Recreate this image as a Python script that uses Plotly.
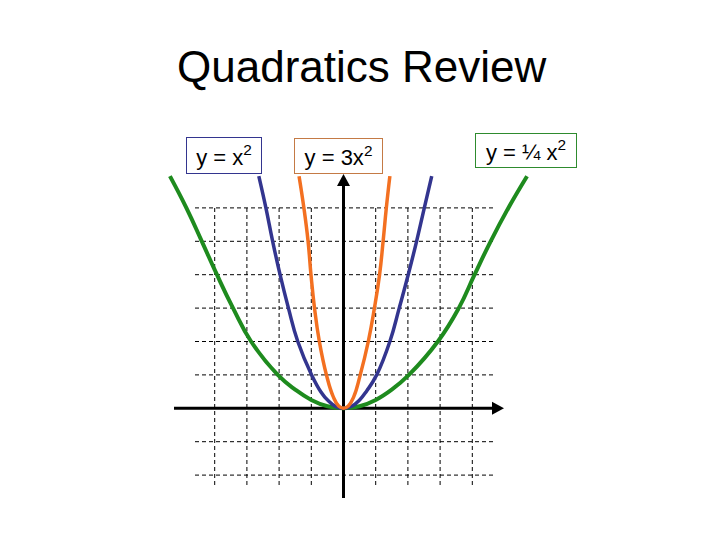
import plotly.graph_objects as go

# ---- data (graph units) ----
# y = x^2 (blue)
blue_x = [-2.63, -2.41, -2.20, -1.97, -1.71, -1.42, -0.99, -0.70, -0.48, -0.25, 0.0, 0.25, 0.50, 0.72, 1.03, 1.44, 1.73, 2.01, 2.27, 2.51, 2.74]
blue_y = [6.95, 6.0, 5.0, 4.0, 3.0, 2.0, 1.0, 0.49, 0.23, 0.06, 0.0, 0.06, 0.25, 0.52, 1.0, 2.0, 3.0, 4.0, 5.0, 6.0, 6.95]
# y = 3x^2 (orange)
orange_x = [-1.38, -1.23, -1.10, -1.01, -0.90, -0.75, -0.53, -0.32, -0.15, 0.0, 0.15, 0.32, 0.52, 0.77, 0.96, 1.12, 1.23, 1.33, 1.44]
orange_y = [6.95, 6.0, 5.0, 4.0, 3.0, 2.0, 1.0, 0.35, 0.07, 0.0, 0.07, 0.35, 1.0, 2.0, 3.0, 4.0, 5.0, 6.0, 6.95]
# y = 1/4 x^2 (green)
green_x = [-5.39, -4.88, -4.40, -3.93, -3.43, -2.87, -2.04, -1.50, -1.0, -0.5, 0.0, 0.5, 1.0, 1.5, 2.03, 2.93, 3.58, 4.07, 4.57, 5.12, 5.70]
green_y = [6.95, 6.0, 5.0, 4.0, 3.0, 2.0, 1.0, 0.56, 0.25, 0.06, 0.0, 0.06, 0.25, 0.56, 1.0, 2.0, 3.0, 4.0, 5.0, 6.0, 6.95]

grid_x = [-4, -3, -2, -1, 1, 2, 3, 4]
grid_y = [-2, -1, 1, 2, 3, 4, 5, 6]

title_text = "Quadratics Review"
label_texts = ["y = x<sup>2</sup>", "y = 3x<sup>2</sup>", "y = ¼ x<sup>2</sup>"]

# ---- layout geometry (reference pixels) ----
OFF = 8                    # page body margin
W, H = 720 - 2 * OFF, 540 - 2 * OFF
OX, OY = 343.5 - OFF, 408.3 - OFF   # origin pixel inside figure
UX, UY = 32.2, 33.4        # pixels per unit
X0, X1 = -OX / UX, (W - OX) / UX
Y0, Y1 = -(H - OY) / UY, OY / UY

def gx(px):
    return (px - OFF - OX) / UX

def gy(py):
    return (OY - (py - OFF)) / UY

def pxp(px):
    return (px - OFF) / W

def pyp(py):
    return 1 - (py - OFF) / H

BLUE = "#33358F"
ORANGE = "#F37021"
GREEN = "#1E8B1E"

fig = go.Figure()

shapes = []
# dashed grid
hx0, hx1 = gx(195), gx(493)
vy0, vy1 = gy(485), max(grid_y)
for yv in grid_y:
    shapes.append(dict(type="line", x0=hx0, x1=hx1, y0=yv, y1=yv, layer="below",
                       line=dict(color="black", width=1, dash="4px,3px")))
for xv in grid_x:
    shapes.append(dict(type="line", x0=xv, x1=xv, y0=vy0, y1=vy1, layer="below",
                       line=dict(color="black", width=1, dash="4px,3px")))
# axes
xa_start, xa_tip, xa_base = gx(174), gx(504), gx(492)
ya_start, ya_tip, ya_base = gy(498), gy(174), gy(186)
shapes.append(dict(type="line", x0=xa_start, x1=xa_base, y0=0, y1=0, layer="below",
                   line=dict(color="black", width=3)))
shapes.append(dict(type="line", x0=0, x1=0, y0=ya_start, y1=ya_base, layer="below",
                   line=dict(color="black", width=3)))
hw = 6.5 / UY
shapes.append(dict(type="path", layer="below", fillcolor="black", line=dict(width=0),
                   path=f"M {xa_base},{-hw} L {xa_tip},0 L {xa_base},{hw} Z"))
hwx = 6.5 / UX
shapes.append(dict(type="path", layer="below", fillcolor="black", line=dict(width=0),
                   path=f"M {-hwx},{ya_base} L 0,{ya_tip} L {hwx},{ya_base} Z"))

for xs, ys, col, w in [(green_x, green_y, GREEN, 4), (blue_x, blue_y, BLUE, 3.5), (orange_x, orange_y, ORANGE, 3.5)]:
    fig.add_trace(go.Scatter(x=xs, y=ys, mode="lines", line=dict(color=col, width=w, shape="spline", smoothing=1.3),
                             hoverinfo="skip", showlegend=False))

annotations = [
    dict(text=title_text, x=pxp(361), y=pyp(66), xref="paper", yref="paper", showarrow=False,
         xanchor="center", yanchor="middle", font=dict(family="Liberation Sans, Arial", size=44, color="black")),
]
boxes = [
    (label_texts[0], 186, 262, 137, 174, BLUE),
    (label_texts[1], 294, 383, 138, 174, "#C47A45"),
    (label_texts[2], 475, 577, 133, 168, "#2E8B2E"),
]
for txt, l, r, t, b, bc in boxes:
    annotations.append(dict(text=txt, x=pxp((l + r) / 2), y=pyp((t + b) / 2), xref="paper", yref="paper",
                            showarrow=False, xanchor="center", yanchor="middle",
                            width=r - l - 2, height=b - t - 2, borderpad=0,
                            bordercolor=bc, borderwidth=1, bgcolor="white",
                            font=dict(family="Liberation Sans, Arial", size=22, color="black")))

fig.update_layout(
    width=W, height=H, margin=dict(l=0, r=0, t=0, b=0),
    paper_bgcolor="white", plot_bgcolor="white",
    xaxis=dict(range=[X0, X1], visible=False, fixedrange=True),
    yaxis=dict(range=[Y0, Y1], visible=False, fixedrange=True),
    shapes=shapes, annotations=annotations, showlegend=False,
)

fig.write_html("out.html")
